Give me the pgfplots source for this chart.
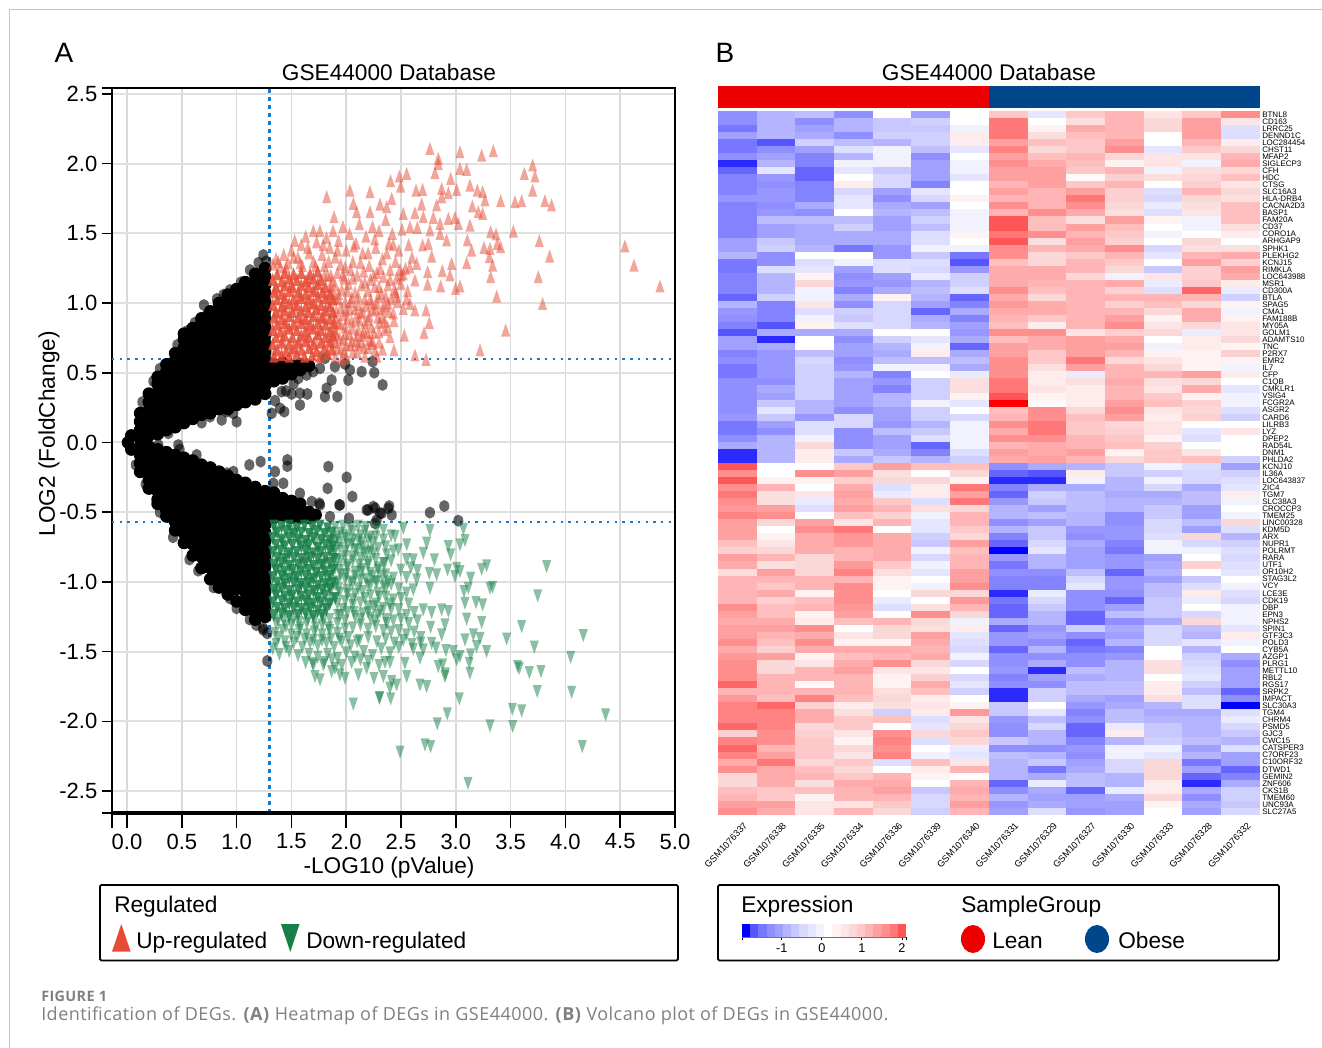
\documentclass[border=0pt]{standalone}
\usepackage{fontspec}
\setmainfont{Liberation Sans}
\newfontfamily\capfont[LetterSpace=2.6]{Open Sans}
\usepackage{pgfplots}
\usepackage{pgfplotstable}
\pgfplotsset{compat=1.18}
\definecolor{redc}{HTML}{E64B35}
\definecolor{greenc}{HTML}{178048}
\definecolor{thr}{HTML}{1C78C8}
\definecolor{lean}{HTML}{ED0000}
\definecolor{obese}{HTML}{00468B}
\pgfplotsset{colormap={heat}{rgb255=(0,0,255) rgb255=(85,85,255) rgb255=(119,119,255) rgb255=(143,143,255) rgb255=(160,160,255) rgb255=(181,181,255) rgb255=(200,200,255) rgb255=(216,216,255) rgb255=(229,229,255) rgb255=(242,242,255) rgb255=(255,255,255) rgb255=(255,242,242) rgb255=(253,229,229) rgb255=(250,216,216) rgb255=(255,200,200) rgb255=(255,181,181) rgb255=(255,160,160) rgb255=(255,143,143) rgb255=(255,119,119) rgb255=(255,85,85) rgb255=(255,42,42) rgb255=(255,0,0)}}
\pgfdeclareplotmark{upt}{\pgfpathmoveto{\pgfpoint{-3.4pt}{-4.9pt}}\pgfpathlineto{\pgfpoint{3.4pt}{-4.9pt}}\pgfpathlineto{\pgfpoint{0pt}{4.9pt}}\pgfpathclose\pgfusepathqfill}
\pgfdeclareplotmark{dnt}{\pgfpathmoveto{\pgfpoint{-3.4pt}{4.9pt}}\pgfpathlineto{\pgfpoint{3.4pt}{4.9pt}}\pgfpathlineto{\pgfpoint{0pt}{-4.9pt}}\pgfpathclose\pgfusepathqfill}
\pgfdeclareplotmark{dot}{\pgfpathellipse{\pgfpointorigin}{\pgfpoint{3.8pt}{0pt}}{\pgfpoint{0pt}{4.5pt}}\pgfusepathqfill}
\pgfdeclareplotmark{dotc}{\pgfpathellipse{\pgfpointorigin}{\pgfpoint{4.8pt}{0pt}}{\pgfpoint{0pt}{4.8pt}}\pgfusepathqfill}
\pgfdeclareplotmark{cell}{\pgfpathrectangle{\pgfpoint{-14.6pt}{-2.72pt}}{\pgfpoint{29.2pt}{5.44pt}}\pgfusepathqfill}
\pgfdeclareplotmark{bin}{\pgfpathrectangle{\pgfpoint{-3.15pt}{-5pt}}{\pgfpoint{6.3pt}{10pt}}\pgfusepathqfill}
\pgfplotstableread{
gene c0 c1 c2 c3 c4 c5 c6 c7 c8 c9 c10 c11 c12 c13
BTNL8 -1.3 -.9 -.8 -1.3 .1 -1.1 .1 .9 -.3 .9 1.1 .5 .9 1.5
CD163 -1.3 -.9 -1.3 -.9 -.7 -.6 .1 1.7 .1 .6 1.1 .7 1.3 .5
LRRC25 -1.5 -.9 -1.1 -.9 -.7 -.7 -.1 1.7 .3 1.2 1.1 .7 1.3 -.4
DENND1C -1.1 -.9 -1.0 -1.3 -.6 -.6 .4 1.7 .6 1.0 1.1 .1 1.3 -.4
LOC284454 -1.5 -1.7 -.6 -.8 -.9 -.6 .4 1.3 1.0 .9 1.3 .1 1.1 .4
CHST11 -1.5 -1.3 -1.1 -.4 -.1 -.8 -.3 1.6 .7 .9 1.5 -.3 .9 .7
MFAP2 -1.3 -1.1 -1.4 -.9 -.1 -1.3 .1 1.3 1.0 1.1 .7 .5 .5 1.1
SIGLECP3 -1.8 -.9 -1.4 -.1 -.1 -1.1 -.1 1.5 1.2 1.0 .3 .5 -.1 1.2
CFH -1.6 -.3 -1.6 -.3 -.7 -1.1 -.1 1.3 1.3 .9 1.1 -.1 .6 .7
HDC -1.4 -1.2 -1.6 .1 -.5 -1.1 -.3 1.3 1.3 .2 .8 .6 .7 1.0
CTSG -1.4 -1.3 -1.4 .4 -.5 -1.4 .1 1.1 1.3 .9 1.1 .1 .8 .5
SLC16A3 -1.4 -1.2 -1.4 -.5 -1.1 -.3 .1 1.3 1.1 1.3 .8 -.4 1.1 .7
HLA-DRB4 -1.2 -1.2 -1.4 -.3 -1.3 -.5 .3 1.1 1.1 1.7 .8 -.5 .7 .6
CACNA2D3 -1.4 -1.3 -1.0 -.3 -1.0 -1.1 .1 1.5 1.1 1.5 .7 -.2 .6 1.0
BASP1 -1.4 -1.2 -1.3 .1 -.9 -.8 -.1 1.1 1.5 1.2 .6 -.4 .5 1.0
FAM20A -1.4 -.8 -.8 -.8 -1.1 -.6 -.1 1.9 1.0 .6 1.3 .3 -.1 1.0
CD37 -1.4 -1.1 -1.0 -.6 -1.1 -.8 -.1 1.9 1.0 1.3 1.0 .1 -.1 .6
CORO1A -1.4 -1.1 -1.0 -1.0 -1.0 -.4 .3 1.7 1.5 1.1 .9 -.1 .1 .4
ARHGAP9 -1.1 -.7 -1.0 -1.0 -1.0 -.4 .1 1.9 .6 1.3 .8 .1 .7 .1
SPHK1 -1.1 -.6 -.9 -1.5 -1.2 -.1 -.1 1.5 1.1 1.2 1.5 -.5 .6 .6
PLEKHG2 -.9 -1.3 .1 .1 -1.2 -.7 -1.5 1.5 .7 .9 1.1 -.3 1.1 1.2
KCNJ15 -1.5 -1.3 -.4 -.1 -.4 -.4 -1.7 1.0 .7 1.1 .9 .1 1.3 .8
RIMKLA -1.5 -.4 -.3 -1.1 -.4 -.5 -1.2 1.2 1.2 1.1 .7 -.7 .8 1.3
LOC643988 -1.4 -.9 .3 -1.3 -1.1 -.2 -.6 1.2 1.2 .7 -.1 .5 .8 1.2
MSR1 -1.4 -.9 .7 -1.2 -1.2 -.9 -.6 1.2 1.1 1.1 1.2 -.2 .9 .4
CD300A -1.4 -.9 -.1 -1.4 -1.0 -.8 -.4 1.5 1.0 1.1 .8 -.4 1.8 -.2
BTLA -1.6 -.6 -.1 -1.0 .3 -.9 -1.6 1.2 .7 1.1 1.1 1.1 1.1 -.6
SPAG5 -.9 -1.4 .5 -1.3 -.5 -1.1 -1.4 1.4 1.2 1.1 .8 1.0 .7 .3
CMA1 -1.2 -1.4 -.4 -.6 -.5 -1.6 -1.0 1.2 1.2 1.1 1.1 .7 1.2 -.1
FAM188B -1.3 -1.4 -.1 -.7 -.5 -1.0 -1.4 1.1 .9 1.1 1.3 .3 1.2 .3
MY05A -1.4 -1.7 .3 -.4 -.5 -.9 -1.1 1.0 .4 1.1 1.5 .5 .7 .5
GOLM1 -1.7 -1.0 -1.0 -1.0 .1 .1 -1.2 1.5 1.5 .5 .8 .7 -.2 .5
ADAMTS10 -1.1 -1.8 .1 -1.3 -.6 -.3 -1.0 1.0 1.2 1.3 1.2 .1 .4 .7
TNC -1.1 -1.0 .1 -1.1 -.9 -.1 -1.6 1.3 1.2 1.3 1.3 -.1 .4 .3
P2RX7 -1.4 -1.2 -.8 -1.1 -1.0 .4 -1.0 1.3 .9 1.3 1.1 .3 .3 .8
EMR2 -1.3 -1.2 -.5 -1.3 -.8 -.8 -.8 1.5 .9 1.7 .7 .5 .3 .3
IL7 -1.5 -1.2 -.6 -1.2 -.1 -.1 -1.0 1.5 .6 1.3 1.1 .7 .3 -.1
CFP -1.5 -1.2 -.6 -.9 -1.4 .1 -.2 1.5 .4 -.2 1.1 1.1 1.3 .4
C1QB -1.3 -1.3 -.6 -1.1 -1.2 -.6 .6 1.7 .4 .6 1.2 .6 .7 .1
CMKLR1 -1.3 -1.0 -.6 -1.1 -1.4 -.6 .6 1.7 .5 .4 1.1 .5 1.2 -.3
VSIG4 -1.3 -1.1 -.6 -1.1 -.9 -.6 .3 1.9 .3 .4 1.1 .9 .3 -.1
FCGR2A -1.3 -.7 -.9 -1.1 -.9 -.1 -.3 2.3 .2 .4 1.3 1.0 .8 -.1
ASGR2 -1.3 -.3 -.9 -1.3 -1.1 -.6 .1 1.0 1.5 .7 1.5 .5 .7 -.4
CARD6 -1.2 -.7 -1.2 -.5 -1.1 -.6 -.5 1.1 1.5 1.0 1.3 .4 .8 -.6
LILRB3 -1.5 -1.1 -.4 -.5 -1.2 -.9 -.1 1.5 1.7 .9 .7 .5 .1 .1
LYZ -1.5 -1.3 -.4 -1.3 -.8 -.7 -.1 1.2 1.7 .9 .8 .5 -.3 .5
DPEP2 -1.3 -.9 -.1 -1.3 -1.1 -.4 -.1 1.5 1.5 1.1 .9 .3 -.4 .1
RAD54L -1.0 -.9 .7 -1.3 -1.1 -1.6 -.1 1.1 1.2 1.1 1.0 .8 .1 .1
DNM1 -1.8 -.9 .4 -.7 -1.0 -1.4 -.4 1.3 1.2 1.3 .3 .9 .5 .1
PHLDA2 -1.8 -.9 .4 -1.0 -.7 -.9 -.6 1.2 1.3 1.1 .7 .9 1.0 -.6
KCNJ10 1.9 .1 .1 .9 1.3 1.0 1.0 -1.3 -1.0 -.9 -.7 -.1 -.4 -1.1
IL36A 1.5 .1 1.5 1.3 .6 .1 .7 -1.6 -1.7 .4 -.7 -.6 -.5 -.6
LOC643837 1.9 .3 .3 .8 .7 .7 .3 -1.8 -1.8 -.1 -.9 -.1 -.5 -.4
ZIC4 1.5 1.1 .1 1.2 -.4 .4 1.7 -1.4 -1.0 -1.0 -.9 -.5 -1.0 -.3
TGM7 1.7 .6 .5 1.3 -.2 .4 1.3 -1.6 -.6 -.8 -1.0 -1.0 -.8 .4
SLC38A3 1.5 .6 -.2 1.2 .9 -.4 1.7 -1.2 -.7 -.8 -.9 -.9 -.8 -.1
CROCCP3 1.4 1.3 -.4 1.3 1.1 .6 .7 -.9 -1.1 -.8 -.9 -.7 -1.1 .1
TMEM25 1.6 1.5 .1 1.0 .8 -.1 1.1 -.9 -.8 -.9 -1.3 -.7 -1.1 -.1
LINC00328 1.3 .7 1.3 .5 1.1 -.3 1.1 -1.3 -1.1 -.9 -1.3 -.5 -.8 .7
KDM5D 1.3 .1 1.5 1.7 .1 -.3 .9 -.9 -.7 -1.2 -1.2 -.5 -1.1 -.4
ARX 1.3 .3 1.2 1.4 1.2 -.6 .7 -1.4 -.7 -1.3 -1.2 -.4 .7 -.9
NUPR1 1.0 .5 1.2 1.4 1.2 -.7 1.3 -1.6 -.5 -1.0 -1.4 -.1 -.5 -.6
POLRMT .8 .7 1.2 1.1 1.2 -.1 1.0 -1.9 -.3 -1.1 -1.5 -.1 -.1 -.4
RARA 1.3 1.1 .7 1.1 1.2 -.5 1.1 -1.2 -.9 -1.1 -1.2 -1.1 .1 -.5
UTF1 1.2 .6 .7 1.4 .9 -.1 1.1 -1.5 -.9 -1.1 -1.2 -1.0 .8 -.4
OR10H2 .6 1.3 .7 1.6 .6 -.3 1.3 -1.3 -1.3 -.8 -1.6 -.9 .1 -.3
STAG3L2 1.1 1.1 1.1 1.1 .3 .1 1.3 -1.4 -1.4 -.5 -1.2 -1.1 -.7 .1
VCY 1.1 .9 1.1 1.5 .3 -.1 1.5 -1.4 -1.4 -.3 -1.2 -.8 -.4 -.1
LCE3E 1.1 1.2 .3 1.5 .1 .7 .7 -1.8 -.2 -1.3 -1.3 -.8 .4 -.4
CDK19 1.1 .8 1.0 1.5 -.2 .1 1.4 -1.5 -.5 -1.3 -1.6 -.7 -.2 -.5
DBP 1.5 1.0 1.1 1.4 -.4 .6 1.1 -1.6 -.7 -1.3 -1.1 -.7 .1 -.1
EPN3 1.3 1.0 .3 1.3 .1 1.5 .7 -1.6 -.9 -1.6 -.8 -.7 -.5 -.1
NPHS2 1.2 1.2 .4 1.0 1.1 .7 -.1 -1.0 -.9 -1.6 -1.3 -1.0 .7 -.1
SPIN1 1.3 1.3 1.5 .1 .7 .6 .4 -1.6 -1.2 -.6 -1.0 -.5 -.8 -.3
GTF3C3 1.3 1.1 1.2 .5 .7 1.3 -.3 -1.2 -1.1 -1.3 -1.1 -.5 -.9 .4
POLD3 1.5 1.0 1.5 .3 .3 1.2 -.4 -1.2 -1.3 -1.6 -.9 -.5 -.3 -.1
CYB5A 1.2 .8 1.2 1.2 1.2 1.1 -.5 -1.6 -.9 -1.5 -1.4 .1 -.9 .1
AZGP1 1.4 1.3 .3 1.0 1.1 1.2 -.1 -1.3 -1.3 -1.3 -1.2 .1 -.6 -1.0
PLRG1 1.5 .7 .5 1.2 1.5 .7 -.5 -1.3 -1.0 -1.3 -.9 .6 -.5 -1.3
METTL10 1.5 .7 1.1 1.3 .5 .5 .1 -1.2 -1.8 -.8 -.9 .6 -.4 -1.1
RBL2 1.5 1.1 1.1 1.1 .3 .8 -.5 -1.4 -1.1 -1.0 -.9 .1 -.3 -1.1
RGS17 1.8 1.1 .2 1.1 .3 1.2 -.3 -1.3 -1.3 -.8 -.8 .4 -.6 -1.1
SRPK2 1.1 1.1 1.1 1.1 .6 1.0 -.6 -1.8 -.6 -.8 -.8 .4 -.8 -1.6
IMPACT 1.4 1.0 1.6 1.0 .7 .4 .1 -1.8 -.6 -1.0 -1.1 .6 -.4 -1.3
SLC30A3 1.6 1.8 .8 .4 .6 .5 .3 -.7 .1 -1.2 -1.0 -.9 -.4 -1.9
TGM4 1.6 1.6 1.2 .6 -.6 .4 1.4 -.7 -.3 -1.4 -.8 -1.0 -1.0 -.4
CHRM4 1.6 1.6 1.2 .9 1.0 -.4 .5 -1.2 -.8 -1.3 -.8 -.9 -.9 -.2
PSMD5 1.8 1.6 .7 .9 .1 -.3 .7 -1.3 -.5 -1.6 -.2 -.7 -.9 -.5
GJC3 .8 1.5 .8 .5 1.5 .7 .9 -1.3 -.9 -1.6 .4 -.7 -.9 -.7
CWC15 1.6 1.5 .9 .3 1.6 -.4 .7 -.7 -.9 -1.4 -.9 -.6 -.8 -.9
CATSPER3 1.8 1.1 .9 .7 1.5 .1 -.2 -1.3 -1.3 -1.2 -.1 -.1 -1.1 -.4
C7ORF23 1.6 1.3 .9 .5 1.6 -.1 -.3 -.8 -.9 -1.3 -.1 -.3 -.9 -1.1
C10ORF32 1.2 1.7 .7 .9 -.4 1.0 .5 -.9 -.7 -1.1 -.5 .7 -1.5 -1.1
DTWD1 1.5 1.2 1.0 .7 .1 .4 1.1 -.9 -1.5 -1.0 -.5 .7 -1.1 -1.6
GEMIN2 .7 1.2 1.1 .9 1.1 .3 .1 -.9 -1.0 -.8 -.9 .7 -1.6 -1.4
ZNF606 .7 1.2 .6 1.2 1.2 .1 1.1 -1.6 -.2 -.8 -.9 .4 -1.8 -1.0
CKS1B 1.0 .9 1.0 1.1 1.3 -.7 1.2 -1.3 -1.0 -1.6 -.2 .4 -1.0 -.6
TMEM60 1.1 .9 .3 1.1 1.1 -.5 1.1 -.9 -1.1 -1.1 -1.0 .7 -1.3 -.6
UNC93A 1.3 1.3 .5 .5 .9 -.5 1.3 -1.2 -1.0 -1.1 -1.1 .3 -1.0 -.7
SLC27A5 1.5 1.2 .5 1.1 .7 -.6 1.1 -1.1 -.4 -1.2 -1.1 .1 -1.1 -.5
}\heat
\pgfplotstableread{
x v
-1.8875 -1.9
-1.6825 -1.7
-1.4775 -1.5
-1.2725 -1.3
-1.0675 -1.1
-.8625 -.9
-.6575 -.7
-.4525 -.5
-.2475 -.3
-.0425 -.1
.1625 .1
.3675 .3
.5725 .5
.7775 .7
.9825 .9
1.1875 1.1
1.3925 1.3
1.5975 1.5
1.8025 1.7
2.0075 1.9
}\cbar
\begin{document}
\begin{tikzpicture}[x=0.75pt,y=-0.75pt]
\path[use as bounding box] (0,0) rectangle (1322,1048);
\draw[color=black!22,line width=1.1pt] (9.5,1048)--(9.5,9.5)--(1322,9.5);
\node[font=\fontsize{21}{22}\selectfont] at (64,53) {A};
\node[font=\fontsize{21}{22}\selectfont] at (725,53) {B};

\begin{axis}[at={(84pt,-609.75pt)},anchor=south west,scale only axis,width=422.25pt,height=543.75pt,
 xmin=-0.137,xmax=5,ymin=-2.658,ymax=2.543,clip mode=individual,
 xtick={-0.137,0,0.5,1,1.5,2,2.5,3,3.5,4,4.5,5},xticklabels={,0.0,0.5,1.0,1.5,2.0,2.5,3.0,3.5,4.0,4.5,5.0},
 ytick={-2.658,-2.5,-2,-1.5,-1,-0.5,0,0.5,1,1.5,2,2.5,2.543},yticklabels={,-2.5,-2.0,-1.5,-1.0,-0.5,0.0,0.5,1.0,1.5,2.0,2.5,},
 tick align=outside,tick pos=left,major tick length=7.5pt,
 tick style={black,line width=1.1pt},
 ticklabel style={font=\fontsize{16.5}{18}\selectfont},
 xticklabel style={yshift=-4.5pt},
 grid=major,x grid style={black!15,line width=1.1pt},y grid style={black!12,line width=1.5pt},
 axis line style={black,line width=1.1pt},
 every axis title shift=0pt,
 title={GSE44000 Database},title style={at={(axis description cs:0.492,1.022)},anchor=center,font=\fontsize{17}{18}\selectfont},
 xlabel={-LOG10 (pValue)},xlabel style={at={(axis description cs:0.492,-0.0758)},anchor=center,font=\fontsize{17}{18}\selectfont},
 ylabel={LOG2 (FoldChange)},ylabel style={at={(axis description cs:-0.112,0.523)},anchor=center,font=\fontsize{17}{18}\selectfont}]
\addplot[thr,line width=1.6pt,dash pattern=on 3pt off 3pt] coordinates {(1.3,-2.658)(1.3,2.543)};
\addplot[thr,line width=1.6pt,dash pattern=on 1.8pt off 4pt] coordinates {(-0.137,0.6)(5,0.6)};
\addplot[thr,line width=1.6pt,dash pattern=on 1.8pt off 4pt] coordinates {(-0.137,-0.57)(5,-0.57)};
\addplot[only marks,mark=dotc,black,mark options={fill=black}] coordinates {
(.01,0)(.04,.05)(.12,.03)(.12,.09)(.12,.15)(.12,.21)
(.2,.05)(.2,.11)(.2,.17)(.2,.23)(.2,.29)(.2,.35)
(.28,.06)(.28,.12)(.28,.18)(.28,.24)(.28,.3)(.28,.36)(.28,.42)(.28,.47)
(.36,.09)(.36,.15)(.36,.21)(.36,.27)(.36,.33)(.36,.39)(.36,.45)(.36,.51)(.36,.56)
(.44,.11)(.44,.17)(.44,.23)(.44,.29)(.44,.35)(.44,.41)(.44,.47)(.44,.53)(.44,.59)(.44,.64)
(.52,.14)(.52,.2)(.52,.26)(.52,.32)(.52,.38)(.52,.44)(.52,.5)(.52,.56)(.52,.62)(.52,.68)(.52,.74)(.52,.78)
(.6,.17)(.6,.23)(.6,.29)(.6,.35)(.6,.41)(.6,.47)(.6,.53)(.6,.59)(.6,.65)(.6,.71)(.6,.77)(.6,.82)
(.68,.2)(.68,.26)(.68,.32)(.68,.38)(.68,.44)(.68,.5)(.68,.56)(.68,.62)(.68,.68)(.68,.74)(.68,.8)(.68,.86)(.68,.89)
(.76,.21)(.76,.27)(.76,.33)(.76,.39)(.76,.45)(.76,.51)(.76,.57)(.76,.63)(.76,.69)(.76,.75)(.76,.81)(.76,.87)(.76,.94)
(.84,.24)(.84,.3)(.84,.36)(.84,.42)(.84,.48)(.84,.54)(.84,.6)(.84,.66)(.84,.72)(.84,.78)(.84,.84)(.84,.9)(.84,.96)(.84,1)
(.92,.24)(.92,.3)(.92,.36)(.92,.42)(.92,.48)(.92,.54)(.92,.6)(.92,.66)(.92,.72)(.92,.78)(.92,.84)(.92,.9)(.92,.96)(.92,1.02)(.92,1.06)
(1,.27)(1,.33)(1,.39)(1,.45)(1,.51)(1,.57)(1,.63)(1,.69)(1,.75)(1,.81)(1,.87)(1,.93)(1,.99)(1,1.05)(1,1.1)
(1.08,.29)(1.08,.35)(1.08,.41)(1.08,.47)(1.08,.53)(1.08,.59)(1.08,.65)(1.08,.71)(1.08,.77)(1.08,.83)(1.08,.89)(1.08,.95)(1.08,1.01)(1.08,1.07)(1.08,1.13)(1.08,1.15)
(1.17,.31)(1.17,.37)(1.17,.43)(1.17,.49)(1.17,.55)(1.17,.61)(1.17,.67)(1.17,.73)(1.17,.79)(1.17,.85)(1.17,.91)(1.17,.97)(1.17,1.03)(1.17,1.09)(1.17,1.15)(1.17,1.21)
(1.26,.35)(1.26,.41)(1.26,.47)(1.26,.53)(1.26,.59)(1.26,.65)(1.26,.71)(1.26,.77)(1.26,.83)(1.26,.89)(1.26,.95)(1.26,1.01)(1.26,1.07)(1.26,1.13)(1.26,1.19)(1.26,1.25)
(.04,-.05)(.12,-.03)(.12,-.09)(.12,-.15)(.12,-.21)
(.2,-.03)(.2,-.09)(.2,-.15)(.2,-.21)(.2,-.27)(.2,-.33)
(.28,-.05)(.28,-.11)(.28,-.17)(.28,-.23)(.28,-.29)(.28,-.35)(.28,-.41)(.28,-.44)
(.36,-.07)(.36,-.13)(.36,-.19)(.36,-.25)(.36,-.31)(.36,-.37)(.36,-.43)(.36,-.49)(.36,-.53)
(.44,-.09)(.44,-.15)(.44,-.21)(.44,-.27)(.44,-.33)(.44,-.39)(.44,-.45)(.44,-.51)(.44,-.57)(.44,-.63)
(.52,-.11)(.52,-.17)(.52,-.23)(.52,-.29)(.52,-.35)(.52,-.41)(.52,-.47)(.52,-.53)(.52,-.59)(.52,-.65)(.52,-.72)
(.6,-.13)(.6,-.19)(.6,-.25)(.6,-.31)(.6,-.37)(.6,-.43)(.6,-.49)(.6,-.55)(.6,-.61)(.6,-.67)(.6,-.73)(.6,-.81)
(.68,-.16)(.68,-.22)(.68,-.28)(.68,-.34)(.68,-.4)(.68,-.46)(.68,-.52)(.68,-.58)(.68,-.64)(.68,-.7)(.68,-.76)(.68,-.82)(.68,-.9)
(.76,-.18)(.76,-.24)(.76,-.3)(.76,-.36)(.76,-.42)(.76,-.48)(.76,-.54)(.76,-.6)(.76,-.66)(.76,-.72)(.76,-.78)(.76,-.84)(.76,-.9)(.76,-.98)
(.84,-.21)(.84,-.27)(.84,-.33)(.84,-.39)(.84,-.45)(.84,-.51)(.84,-.57)(.84,-.63)(.84,-.69)(.84,-.75)(.84,-.81)(.84,-.87)(.84,-.93)(.84,-.99)(.84,-1.04)
(.92,-.24)(.92,-.3)(.92,-.36)(.92,-.42)(.92,-.48)(.92,-.54)(.92,-.6)(.92,-.66)(.92,-.72)(.92,-.78)(.92,-.84)(.92,-.9)(.92,-.96)(.92,-1.02)(.92,-1.09)
(1,-.27)(1,-.33)(1,-.39)(1,-.45)(1,-.51)(1,-.57)(1,-.63)(1,-.69)(1,-.75)(1,-.81)(1,-.87)(1,-.93)(1,-.99)(1,-1.05)(1,-1.14)
(1.08,-.29)(1.08,-.35)(1.08,-.41)(1.08,-.47)(1.08,-.53)(1.08,-.59)(1.08,-.65)(1.08,-.71)(1.08,-.77)(1.08,-.83)(1.08,-.89)(1.08,-.95)(1.08,-1.01)(1.08,-1.07)(1.08,-1.13)(1.08,-1.2)
(1.17,-.32)(1.17,-.38)(1.17,-.44)(1.17,-.5)(1.17,-.56)(1.17,-.62)(1.17,-.68)(1.17,-.74)(1.17,-.8)(1.17,-.86)(1.17,-.92)(1.17,-.98)(1.17,-1.04)(1.17,-1.1)(1.17,-1.16)(1.17,-1.22)(1.17,-1.27)
(1.26,-.35)(1.26,-.41)(1.26,-.47)(1.26,-.53)(1.26,-.59)(1.26,-.65)(1.26,-.71)(1.26,-.77)(1.26,-.83)(1.26,-.89)(1.26,-.95)(1.26,-1.01)(1.26,-1.07)(1.26,-1.13)(1.26,-1.19)(1.26,-1.25)
(1.34,.44)(1.34,.5)(1.34,.56)(1.42,.46)(1.42,.52)(1.42,.57)(1.5,.49)(1.5,.55)(1.58,.52)(1.58,.56)(1.66,.55)
(1.34,-.36)(1.34,-.42)(1.34,-.48)(1.34,-.54)(1.42,-.4)(1.42,-.46)(1.42,-.52)(1.5,-.42)(1.5,-.48)(1.5,-.54)(1.58,-.44)(1.58,-.5)(1.58,-.54)(1.66,-.5)(1.66,-.54)(1.72,-.52)
};
\addplot[only marks,mark=dot,black,mark options={fill=black,fill opacity=.6}] coordinates {
(1.32,.209)(1.396,.245)(1.435,.221)(1.578,.269)(1.502,.348)(1.578,.353)(1.645,.348)(1.411,.365)(1.806,.329)(1.919,.329)(1.821,.389)(1.867,.448)(2.019,.448)(2.141,.508)(2.256,.501)(2.332,.413)(2.034,.52)(1.897,.544)(1.989,.563)(2.241,.58)(1.806,.604)(1.761,.532)(1.7,.508)(1.639,.484)(1.563,.46)(1.35,.3)(1.45,.37)(1.52,.42)
(.864,.162)(1,.149)(.757,.185)(.681,.142)(.377,.066)(.909,.221)(.97,.209)(.702,.986)(.727,.915)(.459,.7)(.94,1.094)(1.244,1.345)(1.2,1.29)(1.122,1.237)(1.27,1.3)(.55,.8)(.3,.53)(.14,.29)(.24,.44)(.62,.86)(.82,1.03)(.88,1.06)(1.04,1.15)
(.286,-.018)(.468,-.018)(.48,-.05)(.635,-.089)(.97,-.209)(.91,-.22)(1.116,-.161)(1.219,-.137)(1.35,-.209)(1.463,-.125)(1.463,-.17)(1.335,-.293)(1.426,-.293)(1.837,-.173)(2.004,-.25)(1.83,-.329)(2.056,-.388)(1.578,-.365)(1.943,-.448)(1.685,-.424)(1.755,-.436)(1.852,-.532)(2.025,-.544)(2.186,-.484)(2.247,-.46)(2.323,-.508)(2.384,-.472)(2.278,-.556)(1.761,-.448)(1.937,-.448)(2.2,-.484)(2.263,-.472)(2.308,-.508)(2.393,-.456)(2.415,-.52)(2.764,-.503)(2.895,-.456)(3.023,-.561)(2.263,-.58)
(1.28,-1.567)(1.244,-1.345)(1.274,-1.25)(1.28,-1.37)(1.24,-1.33)(1.18,-1.31)(1.12,-1.27)(1,-1.19)(.94,-1.12)(.79,-1.04)(.65,-.92)(.57,-.84)(.42,-.68)(.3,-.5)(.17,-.3)(.08,-.16)
};
\addplot[only marks,mark=upt,redc,mark options={fill=redc,fill opacity=.85}] coordinates {
(1.34,.62)(1.41,.63)(1.48,.62)(1.55,.64)(1.62,.62)(1.69,.63)(1.76,.62)(1.83,.64)
(1.37,.67)(1.45,.66)(1.52,.68)(1.59,.67)(1.66,.68)(1.73,.66)(1.8,.68)(1.87,.67)
(1.33,.71)(1.41,.72)(1.48,.71)(1.56,.72)(1.63,.73)(1.7,.71)(1.77,.72)(1.85,.73)
(1.36,.76)(1.44,.77)(1.51,.76)(1.59,.77)(1.66,.76)(1.74,.78)(1.81,.76)(1.88,.77)
(1.33,.81)(1.4,.8)(1.48,.82)(1.55,.81)(1.63,.8)(1.7,.82)(1.77,.81)(1.85,.8)
(1.37,.85)(1.44,.86)(1.52,.85)(1.59,.86)(1.67,.85)(1.74,.86)(1.81,.85)(1.89,.86)
(1.34,.9)(1.41,.89)(1.48,.91)(1.56,.9)(1.63,.89)(1.7,.91)(1.78,.9)(1.85,.89)
(1.36,.94)(1.44,.95)(1.51,.94)(1.59,.95)(1.66,.94)(1.73,.96)(1.81,.95)(1.88,.94)
(1.33,.99)(1.41,.98)(1.48,1)(1.55,.99)(1.63,.98)(1.7,1)(1.77,.99)(1.85,.98)
(1.37,1.03)(1.44,1.04)(1.52,1.03)(1.59,1.04)(1.66,1.03)(1.74,1.05)(1.81,1.04)(1.88,1.03)
(1.34,1.08)(1.41,1.07)(1.48,1.09)(1.56,1.08)(1.63,1.07)(1.7,1.09)(1.78,1.08)(1.85,1.07)
(1.36,1.12)(1.44,1.13)(1.51,1.12)(1.59,1.13)(1.66,1.12)(1.74,1.14)(1.81,1.12)
(1.33,1.17)(1.41,1.16)(1.48,1.18)(1.55,1.17)(1.63,1.16)(1.7,1.18)(1.77,1.17)
(1.37,1.21)(1.44,1.22)(1.52,1.21)(1.59,1.22)(1.67,1.21)(1.74,1.23)
};
\addplot[only marks,mark=upt,redc,mark options={fill=redc,fill opacity=.5}] coordinates {
(2.764,2.11)(2.84,2.039)(2.84,2.003)(3.038,2.086)(3.236,2.062)(3.342,2.094)(2.81,1.936)(3.038,1.967)(3.099,1.96)(3.701,1.991)(3.625,1.931)(3.722,1.912)(3.701,1.811)(3.813,1.735)(3.874,1.704)(3.601,1.735)(3.54,1.728)(3.409,1.735)(3.266,1.74)(3.245,1.8)(3.196,1.811)(3.129,1.847)(3.008,1.816)(2.953,1.895)(2.932,1.792)(2.871,1.823)(2.871,1.763)(2.825,1.704)(3.151,1.697)(3.205,1.656)(3.245,1.644)(2.697,1.816)(2.637,1.811)(2.688,1.711)(2.703,1.62)(2.627,1.649)(2.552,1.931)(2.485,1.912)(2.405,1.878)(2.497,1.84)(2.415,1.752)(2.217,1.8)(2.034,1.811)(1.822,1.764)(1.889,1.62)(2.065,1.716)(2.095,1.656)(2.217,1.656)(2.308,1.711)(2.369,1.692)(2.521,1.644)(2.795,1.615)(2.856,1.572)(2.932,1.608)(2.992,1.615)(3.023,1.572)(3.129,1.56)(2.582,1.548)(2.649,1.544)(2.764,1.525)(2.856,1.501)(2.916,1.453)(3.105,1.453)(3.318,1.513)(3.367,1.496)(3.379,1.429)(3.409,1.405)(3.525,1.517)(3.762,1.448)(3.856,1.338)(3.753,1.19)(3.792,.998)(3.455,.807)(3.221,.664)(3.373,1.051)(3.318,1.19)(3.336,1.273)(3.306,1.333)(3.257,1.4)(3.312,1.393)(3.144,1.381)(3.099,1.29)(2.962,1.285)(3.038,1.123)(2.998,1.106)(2.947,1.202)(2.877,1.233)(2.862,1.123)(2.78,1.338)(2.749,1.429)(2.697,1.417)(2.643,1.285)(2.743,1.226)(2.743,1.137)(2.627,1.166)(4.543,1.41)(4.626,1.273)(4.863,1.123)(2.728,.951)(2.758,.86)(2.71,.788)(2.627,.951)(2.521,.963)(2.582,.998)(2.436,.874)(2.53,.771)(2.399,.759)(2.299,.795)(2.436,.664)(2.627,.628)(2.728,.597)(2.263,.664)(2.232,.711)
(1.33,1.28)(1.36,1.32)(1.4,1.26)(1.43,1.35)(1.47,1.29)(1.5,1.38)(1.53,1.45)(1.56,1.33)(1.6,1.27)(1.59,1.42)(1.63,1.48)(1.66,1.36)(1.7,1.3)(1.7,1.52)(1.73,1.44)(1.76,1.52)(1.78,1.35)(1.8,1.27)(1.82,1.47)(1.85,1.4)(1.88,1.52)(1.9,1.33)(1.93,1.45)(1.95,1.28)(1.97,1.55)(2,1.38)(2.03,1.5)(2.06,1.3)(2.09,1.43)(2.12,1.57)(2.15,1.36)(2.18,1.48)(2.21,1.27)(2.24,1.55)(2.27,1.4)(2.3,1.52)(2.33,1.32)(2.36,1.6)(2.39,1.43)(2.42,1.5)(2.45,1.3)(2.48,1.38)(2.51,1.53)(2.54,1.25)(2.57,1.42)(2.6,1.33)
(1.86,1.2)(1.92,1.22)(1.98,1.18)(2.04,1.24)(2.1,1.2)(2.16,1.23)(2.22,1.17)(2.28,1.22)(2.34,1.19)(2.4,1.24)(2.46,1.18)(2.52,1.21)(2.58,1.26)
(1.9,1.13)(1.96,1.1)(2.02,1.14)(2.08,1.08)(2.14,1.13)(2.2,1.09)(2.26,1.12)(2.32,1.07)(2.38,1.13)(2.44,1.1)(2.5,1.14)(2.56,1.09)
(1.93,1.03)(1.99,1.01)(2.05,1.04)(2.11,.99)(2.17,1.03)(2.23,1)(2.29,1.05)(2.35,.98)(2.41,1.03)(2.47,1.01)
(1.91,.95)(1.97,.92)(2.03,.96)(2.09,.9)(2.15,.94)(2.21,.91)(2.27,.96)(2.33,.9)(2.39,.94)
(1.93,.86)(1.99,.83)(2.05,.87)(2.11,.81)(2.17,.86)(2.23,.83)(2.3,.86)(2.35,.81)
(1.91,.78)(1.97,.74)(2.03,.78)(2.09,.73)(2.15,.77)(2.21,.74)
(1.92,.68)(1.98,.65)(2.04,.7)(2.1,.65)(2.16,.68)(2.28,.62)(2.33,.67)
(1.86,1.12)(1.83,1.2)(1.9,.62)(1.96,.6)(2.0,.62)
(1.38,1.3)(1.45,1.26)(1.52,1.33)(1.58,1.29)(1.65,1.4)(1.72,1.27)(1.79,1.42)(1.84,1.3)(1.92,1.38)(1.99,1.26)(2.07,1.41)(2.13,1.29)(2.2,1.36)(2.26,1.46)(2.31,1.25)(2.37,1.36)(2.43,1.42)(2.49,1.24)
(1.87,1.16)(1.93,1.07)(1.97,1.2)(2.01,1.09)(2.06,1.18)(2.11,1.05)(2.17,1.15)(2.22,1.03)(2.25,1.2)(2.3,1.12)(2.36,1.05)(2.4,1.17)(2.45,1.08)(2.5,1.2)(2.55,1.03)
(1.9,1.04)(1.95,.97)(2,.95)(2.04,1.01)(2.08,.96)(2.13,.93)(2.18,.98)(2.24,.95)(2.28,1.0)(2.33,.96)(2.38,1.0)(2.43,.93)(2.46,1.05)
(1.9,.9)(1.95,.85)(2.01,.89)(2.06,.82)(2.12,.88)(2.16,.8)(2.2,.88)(2.25,.79)(2.29,.9)(2.35,.87)(2.38,.83)
(1.88,.82)(1.94,.75)(1.99,.78)(2.05,.73)(2.1,.77)(2.14,.72)(2.19,.79)(2.24,.73)
(1.9,.72)(1.95,.67)(2.0,.7)(2.06,.65)(2.11,.7)(2.17,.62)(2.2,.68)(2.3,.72)
(1.35,.66)(1.42,.74)(1.5,.66)(1.57,.74)(1.64,.84)(1.72,.74)(1.8,.9)(1.87,.72)
(1.39,.93)(1.46,.84)(1.53,.97)(1.6,.9)(1.68,1.01)(1.75,.92)(1.83,1.0)(1.9,.8)
(1.37,1.1)(1.43,1.01)(1.5,1.14)(1.58,1.06)(1.65,1.18)(1.72,1.1)(1.8,1.2)(1.86,1.08)
};
\addplot[only marks,mark=dnt,greenc,mark options={fill=greenc,fill opacity=.85}] coordinates {
(1.34,-.6)(1.41,-.61)(1.48,-.6)(1.55,-.62)(1.62,-.6)(1.69,-.61)(1.76,-.6)(1.83,-.62)
(1.37,-.65)(1.45,-.64)(1.52,-.66)(1.59,-.65)(1.66,-.66)(1.73,-.64)(1.8,-.66)(1.87,-.65)
(1.33,-.69)(1.41,-.7)(1.48,-.69)(1.56,-.7)(1.63,-.71)(1.7,-.69)(1.77,-.7)(1.85,-.71)
(1.36,-.74)(1.44,-.75)(1.51,-.74)(1.59,-.75)(1.66,-.74)(1.74,-.76)(1.81,-.74)(1.88,-.75)
(1.33,-.79)(1.4,-.78)(1.48,-.8)(1.55,-.79)(1.63,-.78)(1.7,-.8)(1.77,-.79)(1.85,-.78)
(1.37,-.83)(1.44,-.84)(1.52,-.83)(1.59,-.84)(1.67,-.83)(1.74,-.84)(1.81,-.83)(1.89,-.84)
(1.34,-.88)(1.41,-.87)(1.48,-.89)(1.56,-.88)(1.63,-.87)(1.7,-.89)(1.78,-.88)(1.85,-.87)
(1.36,-.92)(1.44,-.93)(1.51,-.92)(1.59,-.93)(1.66,-.92)(1.73,-.94)(1.81,-.93)(1.88,-.92)
(1.33,-.97)(1.41,-.96)(1.48,-.98)(1.55,-.97)(1.63,-.96)(1.7,-.98)(1.77,-.97)(1.85,-.96)
(1.37,-1.01)(1.44,-1.02)(1.52,-1.01)(1.59,-1.02)(1.66,-1.01)(1.74,-1.03)(1.81,-1.02)(1.88,-1.01)
(1.34,-1.06)(1.41,-1.05)(1.48,-1.07)(1.56,-1.06)(1.63,-1.05)(1.7,-1.07)(1.78,-1.06)(1.85,-1.05)
(1.36,-1.1)(1.44,-1.11)(1.51,-1.1)(1.59,-1.11)(1.66,-1.1)(1.74,-1.12)(1.81,-1.1)(1.9,-1.12)
(1.33,-1.15)(1.41,-1.14)(1.48,-1.16)(1.55,-1.15)(1.63,-1.14)(1.7,-1.16)(1.77,-1.15)(1.85,-1.16)
(1.37,-1.19)(1.44,-1.2)(1.52,-1.19)(1.59,-1.2)(1.67,-1.19)(1.74,-1.21)(1.82,-1.2)
(1.34,-1.24)(1.41,-1.23)(1.48,-1.25)(1.56,-1.24)(1.63,-1.23)(1.7,-1.25)(1.78,-1.24)
};
\addplot[only marks,mark=dnt,greenc,mark options={fill=greenc,fill opacity=.5}] coordinates {
(3.829,-.891)(3.747,-1.101)(3.601,-1.321)(3.464,-1.41)(3.716,-1.469)(4.163,-1.386)(4.048,-1.541)(3.564,-1.608)(3.58,-1.62)(3.671,-1.651)(3.777,-1.644)(3.743,-1.787)(4.057,-1.792)(3.516,-1.914)(3.601,-1.926)(3.519,-2.038)(3.312,-2.034)(4.367,-1.955)(4.154,-2.182)(2.922,-1.947)(2.831,-2.019)(2.719,-2.17)(2.77,-2.182)(2.491,-2.222)(3.111,-2.445)(3.032,-1.84)(2.065,-1.878)(2.302,-1.835)(2.306,-1.83)(2.406,-1.84)(2.399,-1.763)(2.46,-1.74)(2.415,-1.716)(2.673,-1.74)(2.734,-1.752)(2.552,-1.68)(2.339,-1.68)(2.253,-1.692)(2.111,-1.668)(2.187,-1.62)(1.989,-1.692)(1.943,-1.668)(1.761,-1.704)(1.715,-1.68)(1.694,-1.584)(1.791,-1.596)(1.867,-1.644)(1.898,-1.62)(2.901,-1.68)(2.905,-1.66)(3.129,-1.656)(2.84,-1.608)(2.88,-1.596)(3.123,-1.584)(3.008,-1.56)(2.536,-1.584)(2.354,-1.579)(2.673,-1.548)(2.703,-1.488)(2.612,-1.484)(2.91,-1.493)(2.977,-1.5)(3.038,-1.536)(3.135,-1.524)(3.19,-1.465)(3.281,-1.5)(3.221,-1.405)(3.16,-1.381)(3.084,-1.417)(2.871,-1.381)(2.78,-1.441)(2.819,-1.476)(2.77,-1.326)(2.901,-1.309)(3.236,-1.292)(3.099,-1.268)(2.932,-1.213)(2.871,-1.201)(2.78,-1.221)(2.703,-1.201)(3.084,-1.154)(3.184,-1.149)(3.245,-1.166)(3.312,-1.046)(3.336,-1.039)(3.075,-1.07)(3.114,-1.046)(3.135,-.974)(2.764,-1.046)(2.643,-.986)(2.612,-1.058)(2.825,-.95)(2.758,-.939)(2.925,-.915)(3.008,-.903)(3.038,-.927)(2.992,-.962)(3.236,-.91)(3.281,-.886)(2.804,-.843)(2.953,-.807)(2.932,-.747)(2.703,-.795)(2.734,-.723)(2.612,-.843)(2.764,-.632)(3.038,-.735)(3.084,-.704)(3.069,-.623)(2.521,-.616)(2.445,-.676)(2.552,-.735)(2.475,-.771)(2.369,-.807)(2.497,-.915)(2.43,-.974)
(1.36,-1.3)(1.43,-1.28)(1.5,-1.31)(1.57,-1.29)(1.64,-1.3)(1.71,-1.28)(1.78,-1.31)(1.85,-1.27)(1.92,-1.3)
(1.35,-1.37)(1.42,-1.35)(1.5,-1.38)(1.57,-1.35)(1.64,-1.38)(1.71,-1.36)(1.78,-1.38)(1.85,-1.35)(1.92,-1.37)(1.99,-1.34)
(1.36,-1.45)(1.45,-1.47)(1.52,-1.44)(1.6,-1.47)(1.67,-1.44)(1.74,-1.46)(1.82,-1.44)(1.89,-1.47)(1.96,-1.43)(2.04,-1.46)
(1.66,-1.52)(1.74,-1.54)(1.83,-1.52)(1.92,-1.55)(2,-1.51)(2.08,-1.54)(2.16,-1.5)(2.24,-1.53)(2.32,-1.48)(2.4,-1.51)(2.48,-1.47)
(1.9,-.61)(1.97,-.6)(2.04,-.62)(2.11,-.6)(2.18,-.61)(2.28,-.62)(2.34,-.63)
(1.92,-.68)(1.99,-.67)(2.06,-.7)(2.13,-.67)(2.2,-.7)(2.27,-.68)(2.34,-.7)(2.41,-.67)
(1.94,-.76)(2.01,-.74)(2.08,-.77)(2.15,-.75)(2.22,-.78)(2.29,-.76)(2.36,-.75)(2.43,-.78)
(1.92,-.84)(1.99,-.82)(2.06,-.85)(2.13,-.83)(2.2,-.86)(2.27,-.84)(2.34,-.87)(2.41,-.85)(2.55,-.84)(2.59,-.9)
(1.94,-.92)(2.01,-.9)(2.08,-.93)(2.15,-.91)(2.22,-.94)(2.29,-.92)(2.36,-.95)(2.55,-.97)(2.65,-.92)
(1.92,-1)(1.99,-.98)(2.06,-1.01)(2.13,-.99)(2.2,-1.02)(2.27,-1)(2.34,-1.03)(2.41,-1.02)(2.48,-1.05)(2.55,-1.08)
(1.94,-1.08)(2.01,-1.06)(2.08,-1.09)(2.15,-1.07)(2.22,-1.1)(2.29,-1.08)(2.36,-1.11)(2.43,-1.13)(2.5,-1.12)(2.57,-1.16)
(1.92,-1.16)(1.99,-1.14)(2.06,-1.17)(2.13,-1.15)(2.2,-1.18)(2.27,-1.16)(2.34,-1.19)(2.41,-1.2)(2.48,-1.2)(2.55,-1.24)(2.62,-1.22)
(1.94,-1.24)(2.01,-1.22)(2.08,-1.25)(2.15,-1.23)(2.22,-1.26)(2.29,-1.24)(2.36,-1.27)(2.43,-1.28)(2.5,-1.27)(2.57,-1.3)(2.65,-1.28)
(2.06,-1.33)(2.13,-1.31)(2.2,-1.34)(2.27,-1.32)(2.34,-1.35)(2.41,-1.36)(2.48,-1.35)(2.55,-1.38)(2.62,-1.36)(2.68,-1.4)
(2.12,-1.42)(2.2,-1.4)(2.28,-1.43)(2.36,-1.41)(2.44,-1.44)(2.52,-1.42)(2.6,-1.45)(2.68,-1.44)
(1.38,-1.28)(1.45,-1.32)(1.52,-1.27)(1.58,-1.33)(1.65,-1.27)(1.72,-1.33)(1.79,-1.27)(1.84,-1.33)(1.92,-1.24)(1.99,-1.28)(2.07,-1.22)(2.13,-1.27)(2.2,-1.22)(2.26,-1.28)(2.31,-1.21)(2.37,-1.3)
(1.87,-1.13)(1.93,-1.05)(1.97,-1.2)(2.01,-1.09)(2.06,-1.13)(2.11,-1.05)(2.17,-1.12)(2.22,-1.03)(2.25,-1.18)(2.3,-1.11)(2.36,-1.05)(2.4,-1.16)
(1.9,-1.02)(1.95,-.95)(2,-.95)(2.04,-1)(2.08,-.96)(2.13,-.93)(2.18,-.98)(2.24,-.96)(2.28,-1.0)(2.33,-.96)(2.38,-1.0)
(1.9,-.9)(1.95,-.85)(2.01,-.88)(2.06,-.82)(2.12,-.88)(2.16,-.8)(2.2,-.88)(2.25,-.8)(2.29,-.9)(2.35,-.87)
(1.88,-.8)(1.94,-.72)(1.99,-.78)(2.05,-.73)(2.1,-.77)(2.14,-.72)(2.19,-.79)(2.24,-.72)
(1.9,-.7)(1.95,-.65)(2,-.69)(2.06,-.64)(2.11,-.7)(2.17,-.64)(2.22,-.68)
(1.35,-.64)(1.42,-.72)(1.5,-.64)(1.57,-.72)(1.64,-.82)(1.72,-.72)(1.8,-.88)(1.87,-.7)
(1.39,-.91)(1.46,-.82)(1.53,-.95)(1.6,-.88)(1.68,-.99)(1.75,-.9)(1.83,-.98)(1.9,-.78)
(1.37,-1.08)(1.43,-.99)(1.5,-1.12)(1.58,-1.04)(1.65,-1.16)(1.72,-1.08)(1.8,-1.18)(1.86,-1.06)
(1.38,-1.4)(1.44,-1.43)(1.55,-1.4)(1.62,-1.41)(1.7,-1.42)(1.78,-1.42)(1.86,-1.41)(1.94,-1.41)(2.02,-1.4)(2.1,-1.43)
(1.33,-1.48)(1.39,-1.52)(1.48,-1.5)(1.56,-1.53)(1.63,-1.58)(1.7,-1.6)(1.8,-1.58)(1.87,-1.56)(1.96,-1.6)(2.05,-1.58)(2.13,-1.56)(2.2,-1.57)(2.3,-1.6)(2.4,-1.58)
};
\draw[line width=2.3pt] (rel axis cs:0,0)--(rel axis cs:1,0);
\pgfplotsinvokeforeach{-0.137,0,0.5,1,1.5,2,2.5,3,3.5,4,4.5,5}{
\draw[line width=1.1pt] (axis cs:#1,-2.658)--++(0pt,-11.5pt);
}
\end{axis}

\begin{axis}[at={(538.5pt,-81pt)},anchor=south west,scale only axis,width=406.5pt,height=16.5pt,xmin=0,xmax=14,ymin=0,ymax=1,hide axis]
\addplot[fill=lean,draw=none] coordinates {(0,0)(7,0)(7,1)(0,1)} --cycle;
\addplot[fill=obese,draw=none] coordinates {(7,0)(14,0)(14,1)(7,1)} --cycle;
\end{axis}

\begin{axis}[at={(538.5pt,-611.25pt)},anchor=south west,scale only axis,width=406.5pt,height=528pt,
 xmin=-.5,xmax=13.5,ymin=-.5,ymax=99.5,y dir=reverse,clip=false,
 colormap name=heat,point meta min=-1.9,point meta max=2.3,
 axis line style={draw=none},major tick length=0pt,tick style={draw=none},
 ytick={0,...,99},yticklabels from table={\heat}{gene},yticklabel pos=right,
 yticklabel style={font=\fontsize{6}{6}\selectfont,inner sep=0pt,xshift=1.5pt},
 xtick={0,...,13},xticklabels={GSM1076337,GSM1076338,GSM1076335,GSM1076334,GSM1076336,GSM1076339,GSM1076340,GSM1076331,GSM1076329,GSM1076327,GSM1076330,GSM1076333,GSM1076328,GSM1076332},
 xticklabel style={font=\fontsize{7}{7}\selectfont,rotate=47,anchor=north east,inner sep=0pt,xshift=-.5pt,yshift=-6.5pt},
 every axis title shift=0pt,
 title={GSE44000 Database},title style={at={(axis description cs:0.5,1.0554)},anchor=center,font=\fontsize{17}{18}\selectfont}]
\pgfplotsinvokeforeach{0,...,13}{
\addplot[scatter,only marks,mark=cell,scatter/use mapped color={fill=mapped color},point meta=explicit] table[x expr=#1,y expr=\coordindex,meta=c#1] {\heat};
}
\end{axis}

\draw[line width=1.3pt,rounded corners=1pt] (100,885) rectangle (678,960.5);
\draw[line width=1.3pt,rounded corners=1pt] (718,885) rectangle (1279,960.5);
\node[anchor=base west,inner sep=0pt,font=\fontsize{17}{18}\selectfont] at (114,912) {Regulated};
\fill[redc] (112,951.7)--(130.7,951.7)--(121.3,924)--cycle;
\node[anchor=base west,inner sep=0pt,font=\fontsize{17}{18}\selectfont] at (136,948) {Up-regulated};
\fill[greenc] (281,924)--(299.5,924)--(290.3,952)--cycle;
\node[anchor=base west,inner sep=0pt,font=\fontsize{17}{18}\selectfont] at (306,948) {Down-regulated};
\node[anchor=base west,inner sep=0pt,font=\fontsize{17}{18}\selectfont] at (741,912) {Expression};
\node[anchor=base west,inner sep=0pt,font=\fontsize{17}{18}\selectfont] at (961,912) {SampleGroup};
\fill[lean] (973,939) ellipse (12 and 14);
\node[anchor=base west,inner sep=0pt,font=\fontsize{17}{18}\selectfont] at (992,948) {Lean};
\fill[obese] (1097,939) ellipse (12 and 14);
\node[anchor=base west,inner sep=0pt,font=\fontsize{17}{18}\selectfont] at (1118,948) {Obese};

\begin{axis}[at={(556.5pt,-702.75pt)},anchor=south west,scale only axis,width=123pt,height=9.75pt,xmin=-1.99,xmax=2.1,ymin=0,ymax=1,
 colormap name=heat,point meta min=-1.9,point meta max=2.3,
 axis y line=none,axis x line*=bottom,x axis line style={-,black!55,line width=.5pt},
 xtick={-1.99,-1,0,1,2,2.1},xticklabels={,-1,0,1,2,},tick align=outside,major tick length=2.5pt,
 tick style={black,line width=.7pt},xticklabel style={font=\fontsize{9.5}{10}\selectfont,inner sep=0pt,yshift=-2.5pt}]
\addplot[scatter,only marks,mark=bin,scatter/use mapped color={fill=mapped color},point meta=explicit] table[x=x,y expr=0.5,meta=v] {\cbar};
\end{axis}

\node[anchor=west,inner sep=0pt,text=black!50,font=\capfont\bfseries\fontsize{10.8}{12}\selectfont] at (41,996) {FIGURE 1};
\node[anchor=west,inner sep=0pt,text=black!50,font=\capfont\fontsize{13.5}{14}\selectfont] at (41,1016) {Identification of DEGs. \textbf{(A)} Heatmap of DEGs in GSE44000. \textbf{(B)} Volcano plot of DEGs in GSE44000.};
\end{tikzpicture}
\end{document}
